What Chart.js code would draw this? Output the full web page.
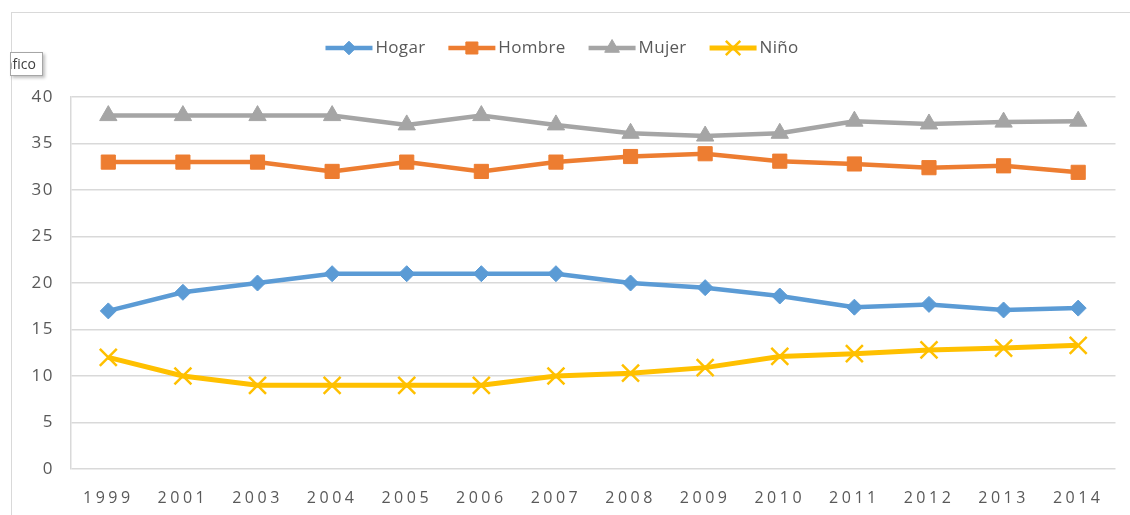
<!DOCTYPE html>
<html>
<head>
<meta charset="utf-8">
<script src="https://cdn.jsdelivr.net/npm/chart.js@4.4.0/dist/chart.umd.min.js"></script>
<style>
  body { margin: 0; background: #fff; }
  #wrap { position: relative; width: 1130px; height: 515px; overflow: hidden; }
  #frame { position: absolute; left: 11px; top: 12px; width: 1200px; height: 600px;
           border-left: 1.5px solid #d9d9d9; border-top: 1.5px solid #d9d9d9; }
  canvas { position: absolute; left: 0; top: 0; }
  #tip { position: absolute; left: 10px; top: 52px; width: 31px; height: 22px; background: #fff;
         border: 1px solid #a6a6a6; box-shadow: 2px 2px 3px rgba(0,0,0,0.25); overflow: hidden;
         font: 14px "Open Sans"; color: #404040; }
  #tip span { position: absolute; right: 6px; top: 1px; white-space: nowrap; }
</style>
</head>
<body>
<div id="wrap">
  <div id="frame"></div>
  <canvas id="myChart" width="1130" height="515"></canvas>
  <div id="tip"><span>Gráfico</span></div>
</div>
<script>
// values
const years = ['1999', '2001', '2003', '2004', '2005', '2006', '2007', '2008', '2009', '2010', '2011', '2012', '2013', '2014'];
const hogar = [17, 19, 20, 21, 21, 21, 21, 20, 19.5, 18.6, 17.4, 17.7, 17.1, 17.3];
const hombre = [33, 33, 33, 32, 33, 32, 33, 33.6, 33.9, 33.1, 32.8, 32.4, 32.6, 31.9];
const mujer = [38, 38, 38, 38, 37, 38, 37, 36.1, 35.8, 36.1, 37.4, 37.1, 37.3, 37.4];
const nino = [12, 10, 9, 9, 9, 9, 10, 10.3, 10.9, 12.1, 12.4, 12.8, 13.0, 13.3];
const yMin = 0, yMax = 40, yStep = 5;

const textColor = '#595959';
const legendCenter = 562;

//Legend drawn as line + marker, the way the spreadsheet does it
const lineLegend = {
  id: 'lineLegend',
  afterDraw(chart) {
    const ctx = chart.ctx;
    ctx.save();
    ctx.font = '17px "Open Sans"';
    ctx.letterSpacing = '0.3px';
    const lineW = 47, gap = 3, itemGap = 23, y = 48;
    const items = chart.data.datasets.map(ds => ({ ds: ds, w: lineW + gap + ctx.measureText(ds.label).width }));
    const total = items.reduce((s, it) => s + it.w, 0) + itemGap * (items.length - 1);
    let x = legendCenter - total / 2;
    items.forEach(it => {
      const ds = it.ds;
      ctx.strokeStyle = ds.borderColor;
      ctx.lineWidth = ds.borderWidth;
      ctx.beginPath();
      ctx.moveTo(x, y);
      ctx.lineTo(x + lineW, y);
      ctx.stroke();
      ctx.fillStyle = ds.pointBackgroundColor;
      ctx.strokeStyle = ds.pointBorderColor;
      ctx.lineWidth = ds.pointBorderWidth;
      Chart.helpers.drawPoint(ctx, { pointStyle: ds.pointStyle, rotation: 0, radius: ds.pointRadius * 0.85, borderWidth: ds.pointBorderWidth }, x + lineW / 2, y);
      ctx.fillStyle = textColor;
      ctx.textBaseline = 'middle';
      ctx.textAlign = 'left';
      ctx.fillText(ds.label, x + lineW + gap, y);
      x += it.w + itemGap;
    });
    ctx.restore();
  }
};

//Wide letter spacing on the tick labels
const tickSpacing = {
  id: 'tickSpacing',
  beforeDraw(chart) {
    [['x', '3.5px'], ['y', '1.5px']].forEach(([id, sp]) => {
      const s = chart.scales[id];
      if (!s || s._spaced) return;
      const orig = s.drawLabels;
      s.drawLabels = function (area) {
        this.ctx.save();
        this.ctx.letterSpacing = sp;
        orig.call(this, area);
        this.ctx.restore();
      };
      s._spaced = true;
    });
  }
};

function series(label, data, color, style, radius, lineWidth, pointBorder, order) {
  return {
    label: label,
    data: data,
    borderColor: color,
    backgroundColor: color,
    borderWidth: lineWidth,
    tension: 0,
    pointStyle: style,
    pointRadius: radius,
    pointBackgroundColor: color,
    pointBorderColor: color,
    pointBorderWidth: pointBorder,
    order: order
  };
}

new Chart(document.getElementById('myChart'), {
  type: 'line',
  data: {
    labels: years,
    datasets: [
      series('Hogar', hogar, '#5b9bd5', 'rectRot', 8, 4.5, 1, 4),
      series('Hombre', hombre, '#ed7d31', 'rect', 10, 4.5, 1, 3),
      series('Mujer', mujer, '#a5a5a5', 'triangle', 10, 4.5, 1, 2),
      series('Niño', nino, '#ffc000', 'crossRot', 12, 5, 2.5, 1)
    ]
  },
  options: {
    responsive: false,
    animation: false,
    layout: { padding: { left: 11, top: 97, right: 14, bottom: 0 } },
    plugins: { legend: { display: false }, tooltip: { enabled: false } },
    scales: {
      x: {
        offset: true,
        grid: { display: false, offset: true },
        border: { display: false },
        ticks: { color: textColor, font: { family: 'Open Sans', size: 16 }, padding: 12, maxRotation: 0, autoSkip: false },
        afterFit(s) { s.height = 46; }
      },
      y: {
        min: yMin,
        max: yMax,
        ticks: { stepSize: yStep, color: textColor, font: { family: 'Open Sans', size: 17 }, padding: 17 },
        grid: { color: '#d9d9d9', lineWidth: 1.5, drawTicks: false },
        border: { display: true, color: '#d9d9d9', width: 1.5 },
        afterFit(s) { s.width = 60; }
      }
    }
  },
  plugins: [tickSpacing, lineLegend]
});
</script>
</body>
</html>
